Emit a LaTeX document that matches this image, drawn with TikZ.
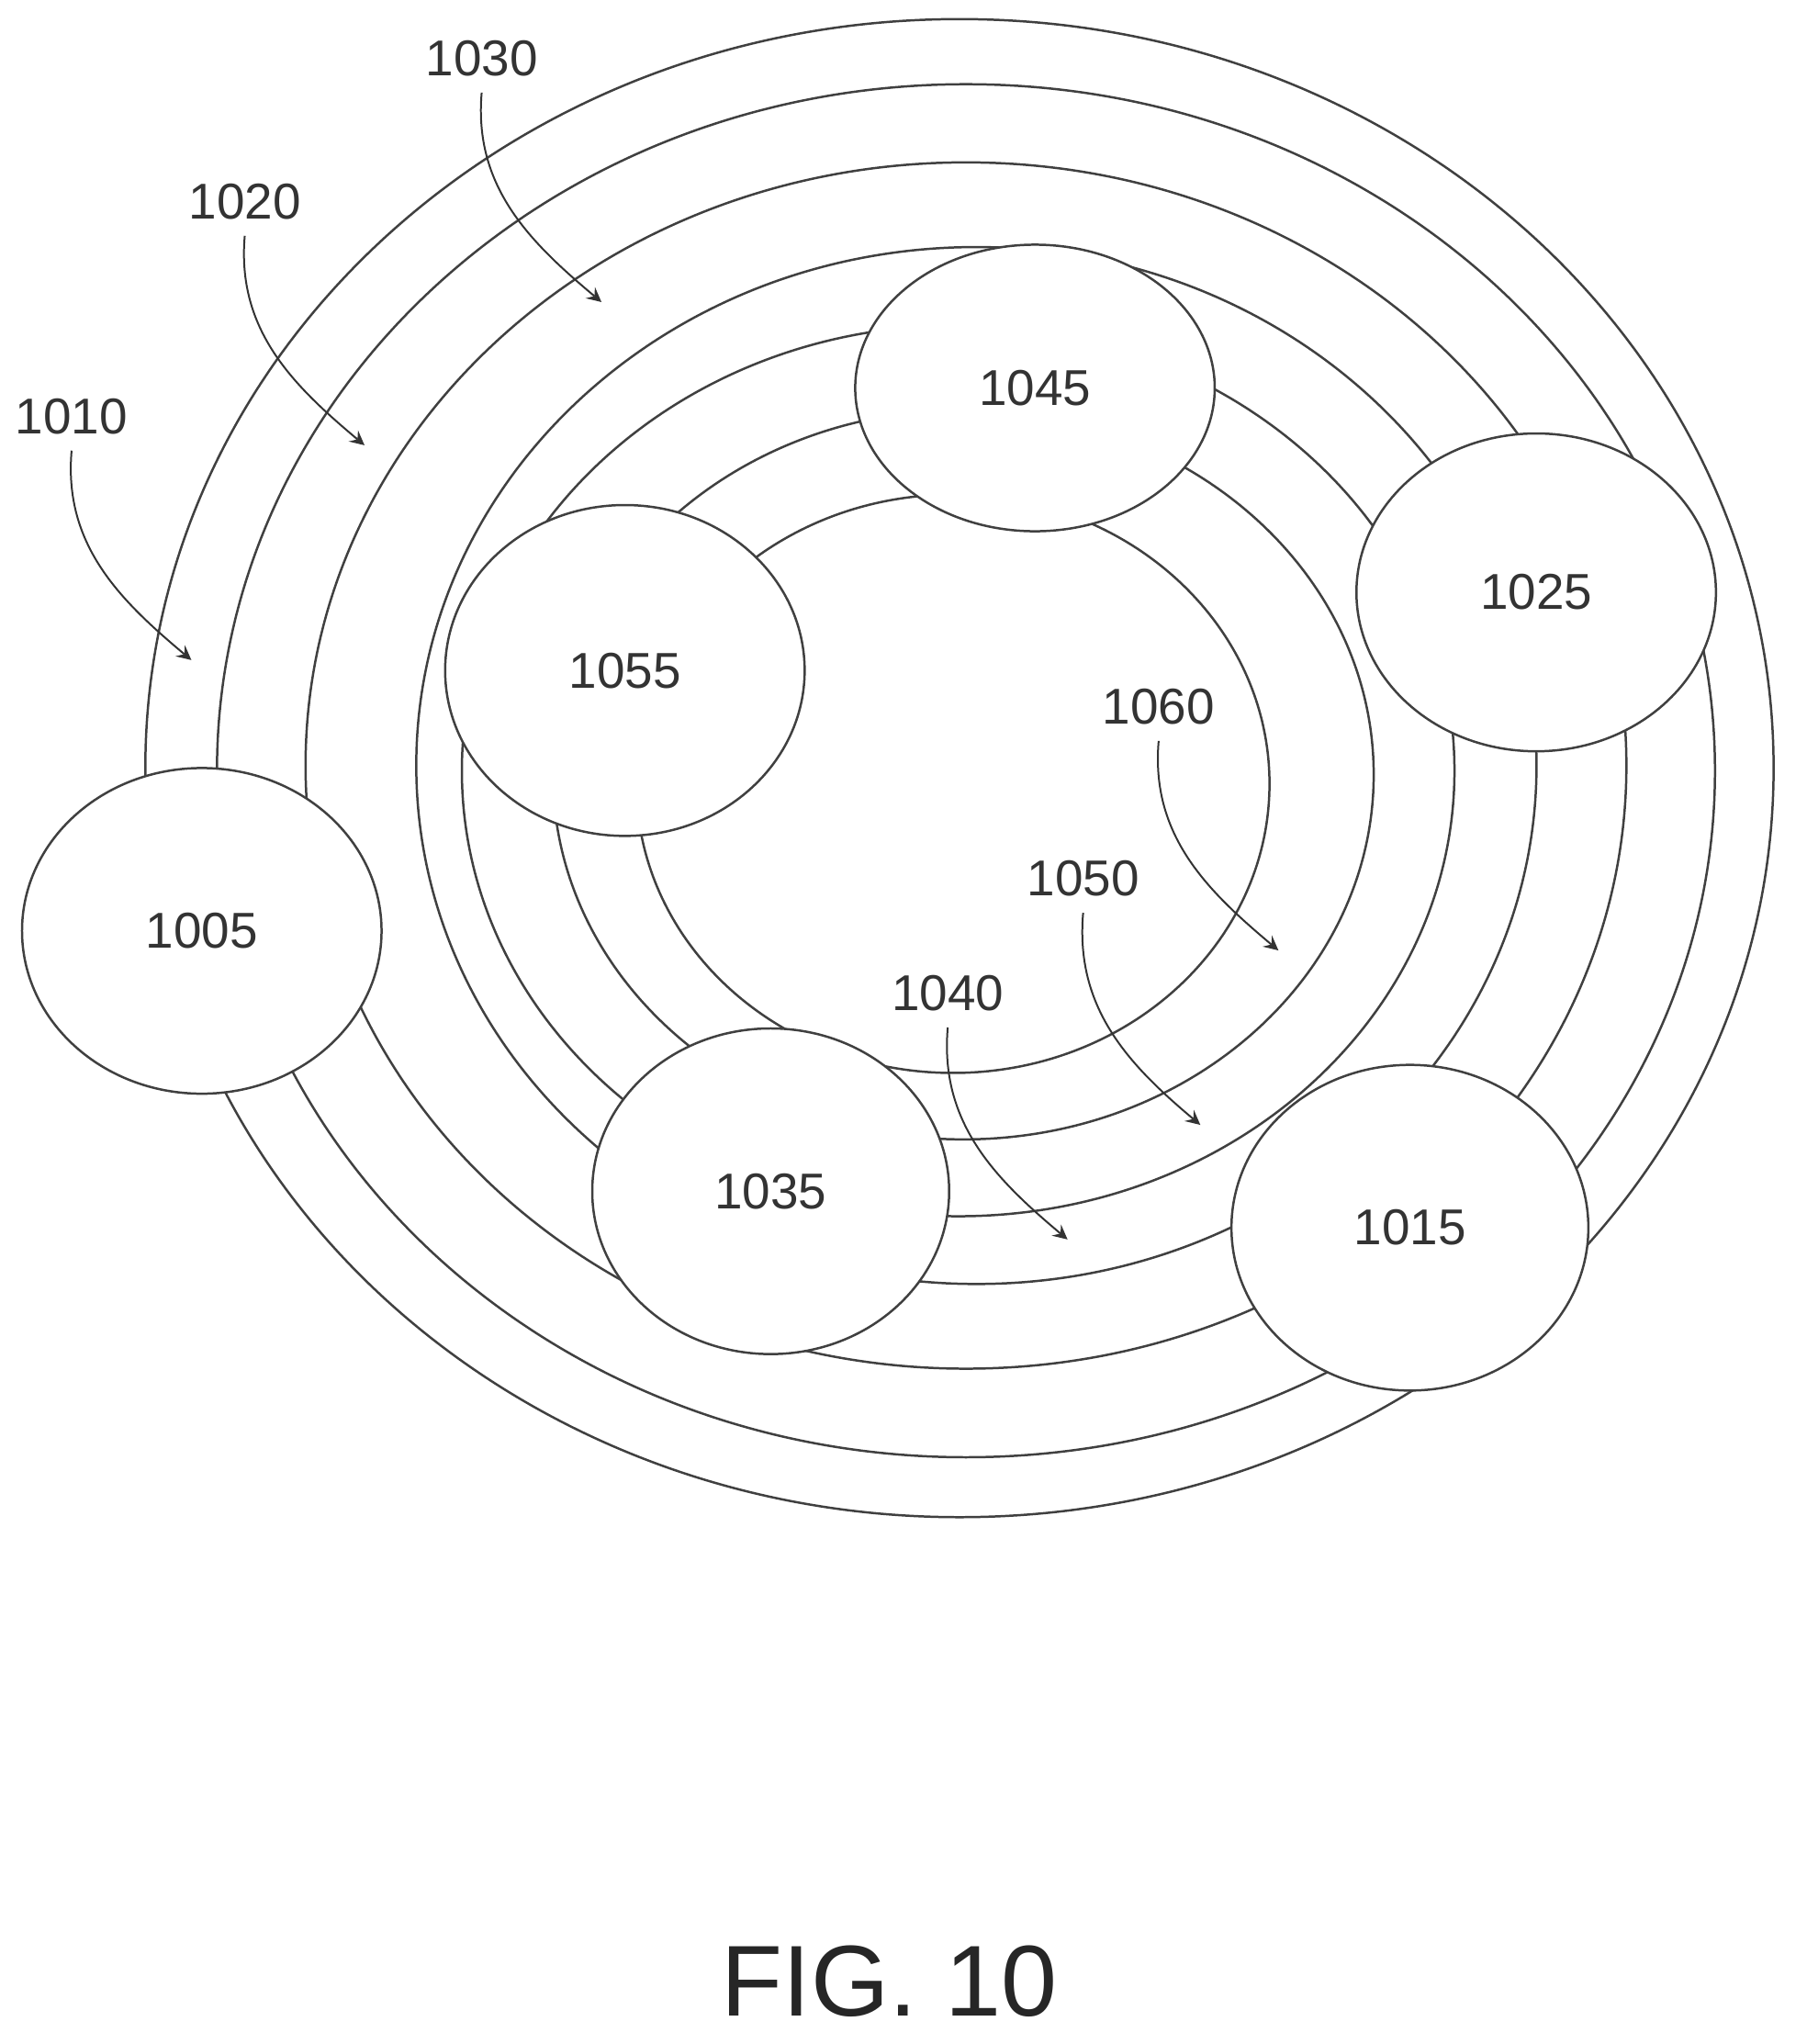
\documentclass[tikz,border=0pt]{standalone}
\usepackage{fontspec}
\setmainfont{Liberation Sans}
\usetikzlibrary{shapes.geometric, arrows}

\begin{document}
\begin{tikzpicture}[x=0.01cm, y=-0.01cm]
	\tikzstyle{ring} = [draw=black!75, line width=0.5pt]
	\tikzstyle{site} = [ellipse, draw=black!75, line width=0.5pt, fill=white, inner sep=0pt, text=black!80, font=\fontsize{11}{13}\selectfont]
	\tikzstyle{tag} = [text=black!80, font=\fontsize{11}{13}\selectfont]
	\tikzstyle{arrow} = [black!80, line width=0.4pt, -stealth]
	\useasboundingbox (0,0) rectangle (1388,1570);
	% rings
	\draw [ring] (737,590) ellipse [x radius=6.25cm, y radius=5.75cm];
	\draw [ring] (742,592) ellipse [x radius=5.75cm, y radius=5.27cm];
	\draw [ring] (742,588) ellipse [x radius=5.07cm, y radius=4.63cm];
	\draw [ring] (750,588) ellipse [x radius=4.30cm, y radius=3.98cm];
	\draw [ring] (736,592) ellipse [x radius=3.81cm, y radius=3.42cm];
	\draw [ring] (740,595) ellipse [x radius=3.15cm, y radius=2.80cm];
	\draw [ring] (732,602) ellipse [x radius=2.43cm, y radius=2.22cm];
	% sites
	\node (s1005) [site, minimum width=2.76cm, minimum height=2.50cm] at (155,715) {1005};
	\node (s1045) [site, minimum width=2.76cm, minimum height=2.20cm] at (795,298) {1045};
	\node (s1025) [site, minimum width=2.76cm, minimum height=2.44cm] at (1180,455) {1025};
	\node (s1055) [site, minimum width=2.76cm, minimum height=2.54cm] at (480,515) {1055};
	\node (s1035) [site, minimum width=2.74cm, minimum height=2.50cm] at (592,915) {1035};
	\node (s1015) [site, minimum width=2.74cm, minimum height=2.50cm] at (1083,943) {1015};
	% ring labels
	\node (t1010) [tag] at (55,320) {1010};
	\node (t1020) [tag] at (188,155) {1020};
	\node (t1030) [tag] at (370,45) {1030};
	\node (t1060) [tag] at (890,543) {1060};
	\node (t1050) [tag] at (832,675) {1050};
	\node (t1040) [tag] at (728,763) {1040};
	\coordinate (p1010) at (147,507);
	\coordinate (p1020) at (280,342);
	\coordinate (p1030) at (462,232);
	\coordinate (p1060) at (982,730);
	\coordinate (p1050) at (922,864);
	\coordinate (p1040) at (820,952);
	\draw [arrow] (t1010.south) to[out=-95, in=140] (p1010);
	\draw [arrow] (t1020.south) to[out=-95, in=140] (p1020);
	\draw [arrow] (t1030.south) to[out=-95, in=140] (p1030);
	\draw [arrow] (t1060.south) to[out=-95, in=140] (p1060);
	\draw [arrow] (t1050.south) to[out=-95, in=140] (p1050);
	\draw [arrow] (t1040.south) to[out=-95, in=140] (p1040);
	\node (caption) [text=black!85, font=\fontsize{22}{26}\selectfont] at (683,1522) {FIG. 10};
\end{tikzpicture}
\end{document}
